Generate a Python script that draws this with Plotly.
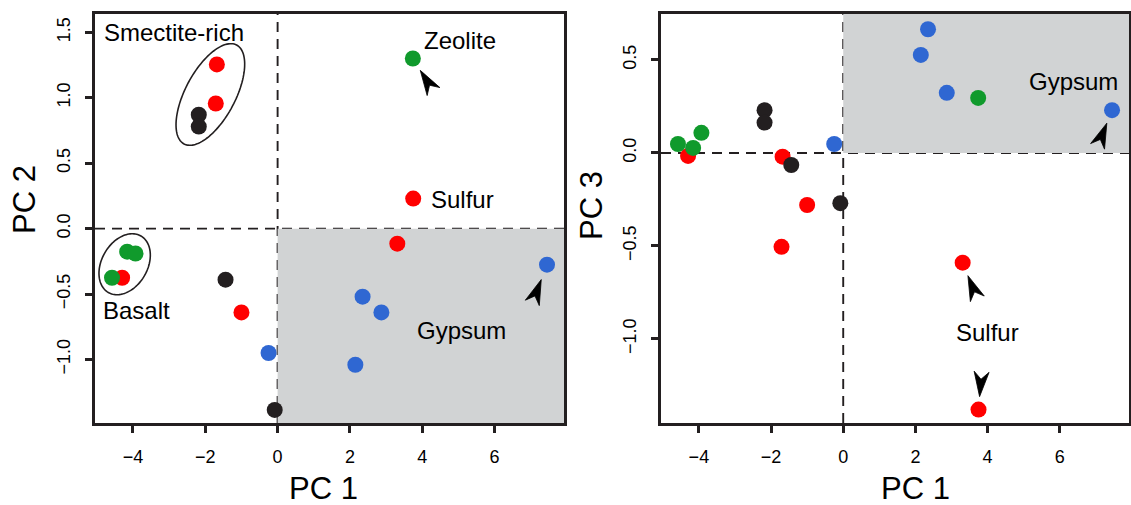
import numpy as np
import plotly.graph_objects as go

# ---------------- data (PC scores per sample group) ----------------
red_pc1 = [-1.68, -1.71, -4.30, -1.00, 3.75, 3.31]
red_pc2 = [1.255, 0.956, -0.375, -0.64, 0.23, -0.115]
red_pc3 = [-0.02, -0.505, -0.016, -0.28, -1.38, -0.59]

black_pc1 = [-2.18, -2.18, -1.44, -0.08]
black_pc2 = [0.87, 0.78, -0.39, -1.385]
black_pc3 = [0.23, 0.163, -0.065, -0.27]

blue_pc1 = [-0.25, 2.15, 2.35, 2.87, 7.45]
blue_pc2 = [-0.95, -1.04, -0.52, -0.64, -0.275]
blue_pc3 = [0.048, 0.527, 0.665, 0.323, 0.23]

green_pc1 = [-4.58, -4.16, -3.93, 3.74]
green_pc2 = [-0.375, -0.176, -0.19, 1.30]
green_pc3 = [0.048, 0.027, 0.108, 0.296]

x_ticks = [-4, -2, 0, 2, 4, 6]
y2_ticks = [-1.0, -0.5, 0.0, 0.5, 1.0, 1.5]
y3_ticks = [-1.0, -0.5, 0.0, 0.5]

# ---------------- style / layout ----------------
W, H = 1131, 505
X_RANGE = [-5.05, 7.92]
Y2_RANGE = [-1.485, 1.64]
Y3_RANGE = [-1.452, 0.747]
L_PX = [95, 564]
R_PX = [661, 1129]
Y_PX = [14, 423]
L_DOM = [L_PX[0] / W, L_PX[1] / W]
R_DOM = [R_PX[0] / W, R_PX[1] / W]
Y_DOM = [(H - Y_PX[1]) / H, (H - Y_PX[0]) / H]

FONT = "Liberation Sans, Arial, sans-serif"
AX = "#231f20"
COLORS = {"red": "#ff0000", "black": "#231f20", "blue": "#2f67d2", "green": "#109a2c"}
GREY = "#d1d3d4"

fig = go.Figure()

groups = [
    ("red", red_pc1, red_pc2, red_pc3),
    ("black", black_pc1, black_pc2, black_pc3),
    ("blue", blue_pc1, blue_pc2, blue_pc3),
    ("green", green_pc1, green_pc2, green_pc3),
]
for name, p1, p2, p3 in groups:
    fig.add_trace(go.Scatter(x=p1, y=p2, mode="markers", xaxis="x", yaxis="y",
                             marker=dict(size=16, color=COLORS[name], line=dict(width=0)),
                             showlegend=False, hoverinfo="skip"))
    fig.add_trace(go.Scatter(x=p1, y=p3, mode="markers", xaxis="x2", yaxis="y2",
                             marker=dict(size=16, color=COLORS[name], line=dict(width=0)),
                             showlegend=False, hoverinfo="skip"))

axis_common = dict(showline=True, mirror=True, linecolor=AX, linewidth=2.5,
                   ticks="outside", ticklen=7, tickwidth=2.5, tickcolor=AX,
                   showgrid=False, zeroline=False,
                   tickfont=dict(family=FONT, size=18, color="black"))

fig.update_layout(
    width=W, height=H, margin=dict(l=0, r=0, t=0, b=0),
    paper_bgcolor="white", plot_bgcolor="white",
    xaxis=dict(domain=L_DOM, range=X_RANGE, anchor="y", tickvals=x_ticks,
               ticklabelstandoff=9, **axis_common),
    yaxis=dict(domain=Y_DOM, range=Y2_RANGE, anchor="x", tickvals=y2_ticks,
               tickformat=".1f", tickangle=-90, ticklabelstandoff=8, **axis_common),
    xaxis2=dict(domain=R_DOM, range=X_RANGE, anchor="y2", tickvals=x_ticks,
                ticklabelstandoff=9, **axis_common),
    yaxis2=dict(domain=Y_DOM, range=Y3_RANGE, anchor="x2", tickvals=y3_ticks,
                tickformat=".1f", tickangle=-90, ticklabelstandoff=8, **axis_common),
)

# pixel scales of the two panels
SCALE = {
    "x": (L_PX[1] - L_PX[0]) / (X_RANGE[1] - X_RANGE[0]),
    "y": (Y_PX[1] - Y_PX[0]) / (Y2_RANGE[1] - Y2_RANGE[0]),
    "x2": (R_PX[1] - R_PX[0]) / (X_RANGE[1] - X_RANGE[0]),
    "y2": (Y_PX[1] - Y_PX[0]) / (Y3_RANGE[1] - Y3_RANGE[0]),
}

# ---------------- shapes: shaded quadrants, dashed zero lines, ellipses ----------------
dash = dict(color=AX, width=1.9, dash="10px,7px")
shapes = [
    dict(type="rect", xref="x", yref="y", x0=0, x1=X_RANGE[1], y0=Y2_RANGE[0], y1=0,
         fillcolor=GREY, line=dict(width=0), layer="below"),
    dict(type="rect", xref="x2", yref="y2", x0=0, x1=X_RANGE[1], y0=0, y1=Y3_RANGE[1],
         fillcolor=GREY, line=dict(width=0), layer="below"),
    dict(type="line", xref="x", yref="y domain", x0=0, x1=0, y0=0, y1=1, line=dash, layer="below"),
    dict(type="line", xref="x domain", yref="y", x0=0, x1=1, y0=0, y1=0, line=dash, layer="below"),
    dict(type="line", xref="x2", yref="y2 domain", x0=0, x1=0, y0=0, y1=1, line=dash, layer="below"),
    dict(type="line", xref="x2 domain", yref="y2", x0=0, x1=1, y0=0, y1=0, line=dash, layer="below"),
]


def ellipse_path(cx, cy, a, b, theta_deg, xr="x", yr="y"):
    t = np.linspace(0, 2 * np.pi, 121)
    th = np.radians(theta_deg)
    u, v = a * np.cos(t), b * np.sin(t)
    xs = cx + (u * np.cos(th) - v * np.sin(th)) / SCALE[xr]
    ys = cy + (u * np.sin(th) + v * np.cos(th)) / SCALE[yr]
    return "M " + " L ".join(f"{x:.4f},{y:.4f}" for x, y in zip(xs, ys)) + " Z"


shapes.append(dict(type="path", xref="x", yref="y", path=ellipse_path(-1.86, 1.025, 56, 25, 62),
                   line=dict(color=AX, width=1.6)))
shapes.append(dict(type="path", xref="x", yref="y", path=ellipse_path(-4.23, -0.272, 32.6, 22.9, 60),
                   line=dict(color=AX, width=1.6)))


def arrowhead(px, py, xr, yr, dx, dy, standoff, length=25, half_w=7.5, notch=0.7):
    """Filled stealth arrowhead pointing at a data point (px,py); (dx,dy) = screen
    direction from the point toward the arrow's back, standoff in px."""
    n = np.hypot(dx, dy)
    ux, uy = dx / n, dy / n          # screen unit vector (y down)
    nx, ny = -uy, ux                 # normal
    tip = np.array([standoff * ux, standoff * uy])
    back = tip + length * np.array([ux, uy])
    mid = tip + notch * length * np.array([ux, uy])
    b1 = back + half_w * np.array([nx, ny])
    b2 = back - half_w * np.array([nx, ny])
    pts = [tip, b1, mid, b2]
    sx, sy = SCALE[xr], SCALE[yr]
    coords = [(px + p[0] / sx, py - p[1] / sy) for p in pts]
    path = "M " + " L ".join(f"{x:.4f},{y:.4f}" for x, y in coords) + " Z"
    shapes.append(dict(type="path", xref=xr, yref=yr, path=path,
                       fillcolor="black", line=dict(color="black", width=0.8)))


arrowhead(green_pc1[3], green_pc2[3], "x", "y", 20, 32, 14)
arrowhead(blue_pc1[4], blue_pc2[4], "x", "y", -15, 39, 16)
arrowhead(blue_pc1[4], blue_pc3[4], "x2", "y2", -14, 35, 14)
arrowhead(red_pc1[5], red_pc3[5], "x2", "y2", 15, 37, 14)
arrowhead(red_pc1[4], red_pc3[4], "x2", "y2", 3, -37, 13)

fig.update_layout(shapes=shapes)

# ---------------- annotations ----------------
anns = []


def label(text, x, y, xref, yref, size=24):
    anns.append(dict(text=text, x=x, y=y, xref=xref, yref=yref, showarrow=False,
                     xanchor="left", yanchor="middle",
                     font=dict(family=FONT, size=size, color="black")))


label("Smectite-rich", -4.85, 1.50, "x", "y")
label("Zeolite", 3.98, 1.44, "x", "y")
label("Sulfur", 4.18, 0.222, "x", "y")
label("Gypsum", 3.81, -0.78, "x", "y")
label("Basalt", -4.88, -0.627, "x", "y")
label("Gypsum", 5.10, 0.382, "x2", "y2")
label("Sulfur", 3.07, -0.968, "x2", "y2")

# axis titles
title_font = dict(family=FONT, size=31, color="black")
anns.append(dict(text="PC 1", x=323 / W, y=1 - 488 / H, xref="paper", yref="paper",
                 showarrow=False, xanchor="center", yanchor="middle", font=title_font))
anns.append(dict(text="PC 1", x=915 / W, y=1 - 488 / H, xref="paper", yref="paper",
                 showarrow=False, xanchor="center", yanchor="middle", font=title_font))
anns.append(dict(text="PC 2", x=24 / W, y=1 - 200 / H, xref="paper", yref="paper",
                 showarrow=False, xanchor="center", yanchor="middle", textangle=-90, font=title_font))
anns.append(dict(text="PC 3", x=592 / W, y=1 - 206 / H, xref="paper", yref="paper",
                 showarrow=False, xanchor="center", yanchor="middle", textangle=-90, font=title_font))

fig.update_layout(annotations=anns)

fig.write_html("out.html")
